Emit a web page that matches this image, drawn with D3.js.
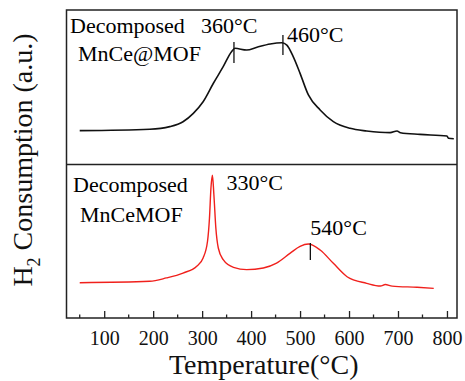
<!DOCTYPE html>
<html>
<head>
<meta charset="utf-8">
<script src="https://cdn.jsdelivr.net/npm/d3@7"></script>
<style>
  body { margin: 0; background: #fff; }
  svg { display: block; font-family: "Liberation Serif", "Times New Roman", serif; }
</style>
</head>
<body>
<svg width="465" height="381"></svg>
<script>
// H2-TPR profiles, temperatures in °C, signal in arbitrary units
var topTemp = [50, 193, 234, 261, 282, 302, 323, 343, 360, 367, 391, 412, 439, 463, 473, 486, 500, 517, 541, 568, 602, 636, 684, 698, 705, 745, 800, 803, 814];
var topSignal = [0.219, 0.228, 0.245, 0.277, 0.331, 0.406, 0.526, 0.633, 0.730, 0.752, 0.741, 0.759, 0.780, 0.788, 0.773, 0.698, 0.590, 0.450, 0.353, 0.277, 0.234, 0.217, 0.206, 0.217, 0.206, 0.195, 0.184, 0.170, 0.167];

var botTemp = [50, 193, 227, 261, 289, 302, 311, 315, 318, 321, 324, 328, 333, 343, 364, 391, 425, 452, 480, 500, 517, 541, 568, 596, 636, 664, 674, 688, 739, 773];
var botSignal = [0.230, 0.239, 0.261, 0.293, 0.337, 0.391, 0.500, 0.651, 0.847, 0.930, 0.803, 0.586, 0.456, 0.380, 0.330, 0.315, 0.326, 0.358, 0.423, 0.467, 0.482, 0.443, 0.356, 0.269, 0.226, 0.208, 0.218, 0.208, 0.200, 0.193];

var xTicks = [100, 200, 300, 400, 500, 600, 700, 800];
var xMinor = [50, 150, 250, 350, 450, 550, 650, 750];

var topNames = ["Decomposed", "MnCe@MOF"];
var botNames = ["Decomposed", "MnCeMOF"];
var topPeaks = [365, 465];
var topPeakLabels = ["360°C", "460°C"];
var botPeaks = [321, 521];
var botPeakLabels = ["330°C", "540°C"];

var svg = d3.select("svg");
var pLeft = 66.5, pRight = 457, pTop = 10, pMid = 164.5, pBottom = 318;

var x = d3.scaleLinear().domain([23, 820.5]).range([pLeft, pRight]);
var yTop = d3.scaleLinear().domain([0, 1]).range([pMid, pTop]);
var yBot = d3.scaleLinear().domain([0, 1]).range([pBottom, pMid]);

function series(t, s) {
    return t.map(function(d, i) { return [d, s[i]]; });
}

var lineTop = d3.line().x(function(d) { return x(d[0]); }).y(function(d) { return yTop(d[1]); }).curve(d3.curveMonotoneX);
var lineBot = d3.line().x(function(d) { return x(d[0]); }).y(function(d) { return yBot(d[1]); }).curve(d3.curveMonotoneX);

svg.append("path")
    .datum(series(topTemp, topSignal))
    .attr("d", lineTop)
    .attr("fill", "none")
    .attr("stroke", "#111")
    .attr("stroke-width", 1.6);

svg.append("path")
    .datum(series(botTemp, botSignal))
    .attr("d", lineBot)
    .attr("fill", "none")
    .attr("stroke", "#f0201c")
    .attr("stroke-width", 1.4);

// frame and divider
svg.append("rect")
    .attr("x", pLeft).attr("y", pTop)
    .attr("width", pRight - pLeft).attr("height", pBottom - pTop)
    .attr("fill", "none").attr("stroke", "#222").attr("stroke-width", 1.5);
svg.append("line")
    .attr("x1", pLeft).attr("x2", pRight).attr("y1", pMid).attr("y2", pMid)
    .attr("stroke", "#222").attr("stroke-width", 1.5);

// bottom axis with inward ticks
var axis = svg.append("g").attr("transform", "translate(0," + pBottom + ")")
    .call(d3.axisBottom(x).tickValues(xTicks).tickSize(-7).tickPadding(13).tickFormat(d3.format("d")));
axis.select(".domain").remove();
axis.selectAll("line").attr("stroke", "#222").attr("stroke-width", 1.3);
axis.selectAll("text").attr("font-size", 20).attr("fill", "#111").attr("font-family", "Liberation Serif");

svg.append("g").selectAll("line").data(xMinor).enter().append("line")
    .attr("x1", function(d) { return x(d); }).attr("x2", function(d) { return x(d); })
    .attr("y1", pBottom).attr("y2", pBottom - 3.5)
    .attr("stroke", "#222").attr("stroke-width", 1.3);

svg.append("text")
    .attr("x", (pLeft + pRight) / 2 + 2).attr("y", 374)
    .attr("text-anchor", "middle").attr("font-size", 28).attr("fill", "#111")
    .text("Temperature(°C)");

var yl = svg.append("text")
    .attr("transform", "translate(32," + ((pTop + pBottom) / 2 - 4) + ") rotate(-90)")
    .attr("text-anchor", "middle").attr("font-size", 28).attr("fill", "#111");
yl.append("tspan").text("H");
yl.append("tspan").attr("font-size", 18).attr("dy", 8).text("2");
yl.append("tspan").attr("dy", -8).text(" Consumption (a.u.)");

// labels
var fs = 22;
svg.append("text").attr("x", 70).attr("y", 33).attr("font-size", fs).text(topNames[0]);
svg.append("text").attr("x", 78).attr("y", 61).attr("font-size", fs).text(topNames[1]);
svg.append("text").attr("x", 73).attr("y", 192).attr("font-size", fs).text(botNames[0]);
svg.append("text").attr("x", 80).attr("y", 222).attr("font-size", fs).text(botNames[1]);

// peak markers
svg.append("line")
    .attr("x1", x(topPeaks[0])).attr("x2", x(topPeaks[0]))
    .attr("y1", 42).attr("y2", 63).attr("stroke", "#111").attr("stroke-width", 1.3);
svg.append("line")
    .attr("x1", x(topPeaks[1])).attr("x2", x(topPeaks[1]))
    .attr("y1", 35).attr("y2", 55).attr("stroke", "#111").attr("stroke-width", 1.3);
svg.append("line")
    .attr("x1", x(botPeaks[1])).attr("x2", x(botPeaks[1]))
    .attr("y1", 243).attr("y2", 260).attr("stroke", "#111").attr("stroke-width", 1.3);

svg.append("text").attr("x", x(topPeaks[0]) - 33).attr("y", 33).attr("font-size", fs).text(topPeakLabels[0]);
svg.append("text").attr("x", x(topPeaks[1]) + 4).attr("y", 42).attr("font-size", fs).text(topPeakLabels[1]);
svg.append("text").attr("x", x(botPeaks[0]) + 14).attr("y", 190).attr("font-size", fs).text(botPeakLabels[0]);
svg.append("text").attr("x", x(botPeaks[1])).attr("y", 235).attr("font-size", fs).text(botPeakLabels[1]);
</script>
</body>
</html>
